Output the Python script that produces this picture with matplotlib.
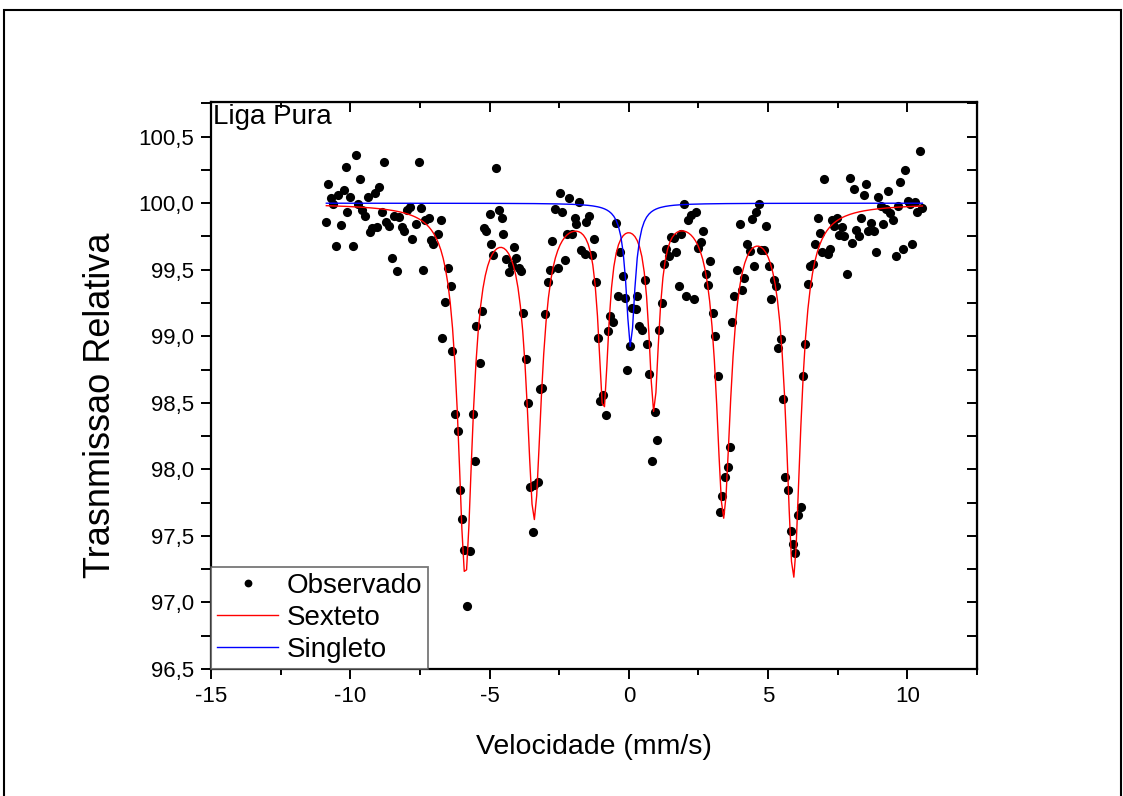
import numpy as np
import matplotlib
matplotlib.use('Agg')
import matplotlib.pyplot as plt
from matplotlib.ticker import MultipleLocator, FuncFormatter
from matplotlib.patches import Rectangle

plt.rcParams['font.family'] = ['Liberation Sans', 'DejaVu Sans']
plt.rcParams['axes.unicode_minus'] = False

# espectro observado (velocidade em mm/s, transmissao relativa em %)
vel = [-10.86, -10.79, -10.69, -10.61, -10.53, -10.43, -10.33, -10.24, -10.17, -10.10,
       -10.00, -9.90, -9.81, -9.74, -9.64, -9.57, -9.47, -9.38, -9.28, -9.21,
       -9.11, -9.04, -8.96, -8.85, -8.78, -8.70, -8.61, -8.51, -8.42, -8.34,
       -8.25, -8.15, -8.06, -7.96, -7.87, -7.79, -7.63, -7.55, -7.46, -7.39,
       -7.31, -7.17, -7.10, -7.03, -6.86, -6.76, -6.69, -6.59, -6.50, -6.40,
       -6.33, -6.23, -6.14, -6.07, -5.99, -5.90, -5.80, -5.71, -5.60, -5.53,
       -5.48, -5.36, -5.27, -5.19, -5.12, -5.00, -4.93, -4.86, -4.76, -4.66,
       -4.57, -4.50, -4.40, -4.30, -4.21, -4.14, -4.04, -3.94, -3.87, -3.80,
       -3.70, -3.61, -3.54, -3.44, -3.39, -3.27, -3.20, -3.10, -3.01, -2.91,
       -2.84, -2.74, -2.65, -2.55, -2.48, -2.39, -2.29, -2.22, -2.15, -2.05,
       -1.95, -1.88, -1.78, -1.71, -1.59, -1.52, -1.42, -1.33, -1.26, -1.19,
       -1.09, -1.02, -0.92, -0.83, -0.73, -0.66, -0.56, -0.47, -0.39, -0.30,
       -0.20, -0.13, -0.06, 0.03, 0.12, 0.24, 0.31, 0.38, 0.48, 0.58,
       0.65, 0.74, 0.84, 0.94, 1.01, 1.10, 1.20, 1.27, 1.34, 1.44,
       1.51, 1.63, 1.70, 1.80, 1.87, 1.97, 2.06, 2.14, 2.23, 2.33,
       2.40, 2.50, 2.59, 2.66, 2.76, 2.83, 2.93, 3.02, 3.09, 3.19,
       3.29, 3.36, 3.45, 3.55, 3.65, 3.72, 3.79, 3.89, 3.98, 4.08,
       4.15, 4.25, 4.34, 4.41, 4.51, 4.58, 4.68, 4.75, 4.85, 4.94,
       5.04, 5.11, 5.21, 5.30, 5.37, 5.47, 5.54, 5.61, 5.72, 5.82,
       5.91, 5.98, 6.08, 6.18, 6.25, 6.34, 6.44, 6.51, 6.61, 6.68,
       6.78, 6.87, 6.94, 7.02, 7.14, 7.21, 7.28, 7.38, 7.47, 7.54,
       7.64, 7.74, 7.83, 7.93, 8.00, 8.08, 8.17, 8.26, 8.35, 8.43,
       8.53, 8.60, 8.69, 8.79, 8.87, 8.96, 9.04, 9.14, 9.22, 9.32,
       9.39, 9.49, 9.58, 9.65, 9.74, 9.85, 9.92, 10.01, 10.11, 10.18,
       10.26, 10.35, 10.45, 10.54]
trans = [99.855, 100.145, 100.04, 99.99, 99.68, 100.06, 99.835, 100.10, 100.27, 99.935,
         100.05, 99.675, 100.365, 99.995, 100.18, 99.95, 99.905, 100.05, 99.78, 99.815,
         100.075, 99.82, 100.125, 99.935, 100.31, 99.855, 99.825, 99.59, 99.90, 99.49,
         99.895, 99.82, 99.79, 99.95, 99.97, 99.73, 99.84, 100.31, 99.96, 99.495,
         99.87, 99.89, 99.72, 99.695, 99.765, 99.875, 98.985, 99.255, 99.515, 99.375,
         98.89, 98.415, 98.29, 97.845, 97.63, 97.395, 96.975, 97.385, 98.415, 98.065,
         99.075, 98.80, 99.19, 99.815, 99.79, 99.915, 99.695, 99.61, 100.265, 99.945,
         99.89, 99.765, 99.58, 99.48, 99.535, 99.67, 99.59, 99.515, 99.49, 99.175,
         98.83, 98.495, 97.87, 97.53, 97.885, 97.905, 98.605, 98.61, 99.17, 99.405,
         99.50, 99.715, 99.955, 99.51, 100.08, 99.93, 99.57, 99.765, 100.035, 99.765,
         99.885, 99.845, 100.01, 99.645, 99.615, 99.86, 99.905, 99.61, 99.73, 99.405,
         98.99, 98.51, 98.56, 98.41, 99.04, 99.15, 99.105, 99.85, 99.30, 99.63,
         99.45, 99.29, 98.75, 98.93, 99.21, 99.205, 99.30, 99.08, 99.045, 99.425,
         98.945, 98.715, 98.065, 98.43, 98.22, 99.05, 99.25, 99.545, 99.655, 99.60,
         99.745, 99.735, 99.635, 99.375, 99.77, 99.995, 99.305, 99.875, 99.91, 99.28,
         99.935, 99.66, 99.705, 99.79, 99.47, 99.385, 99.565, 99.175, 99.00, 98.705,
         97.68, 97.80, 97.945, 98.02, 98.17, 99.11, 99.30, 99.50, 99.845, 99.35,
         99.44, 99.69, 99.64, 99.878, 99.525, 99.935, 99.995, 99.65, 99.65, 99.83,
         99.53, 99.28, 99.425, 99.38, 98.91, 98.98, 98.525, 97.945, 97.845, 97.54,
         97.44, 97.37, 97.66, 97.72, 98.705, 98.94, 99.39, 99.528, 99.54, 99.69,
         99.89, 99.775, 99.63, 100.18, 99.615, 99.655, 99.87, 99.83, 99.89, 99.757,
         99.82, 99.75, 99.47, 100.19, 99.70, 100.11, 99.795, 99.75, 99.888, 100.06,
         100.145, 99.788, 99.85, 99.788, 99.63, 100.045, 99.975, 99.84, 99.958, 100.09,
         99.925, 99.87, 99.60, 99.98, 100.157, 99.658, 100.25, 100.015, 99.995, 99.695,
         100.005, 99.93, 100.395, 99.963]

# parametros do ajuste (lorentzianas)
sext_pos = [-5.87, -3.40, -0.91, 0.90, 3.40, 5.91]
sext_depth = [2.76, 2.31, 1.48, 1.48, 2.30, 2.77]
sext_hwhm = [0.32, 0.32, 0.22, 0.22, 0.32, 0.32]
sing_pos = 0.06
sing_depth = 1.08
sing_hwhm = 0.19
baseline = 100.0


def lorentz(x, x0, a, g):
    return a * g**2 / ((x - x0)**2 + g**2)


xfit = np.linspace(vel[0], vel[-1], 256)
sexteto = baseline - sum(lorentz(xfit, p, a, g)
                         for p, a, g in zip(sext_pos, sext_depth, sext_hwhm))
singleto = baseline - lorentz(xfit, sing_pos, sing_depth, sing_hwhm)

fig = plt.figure(figsize=(11.23, 7.96), dpi=100)
ax = fig.add_axes([211/1123, 1 - 669/796, (977 - 211)/1123, (669 - 102)/796])

ax.plot(vel, trans, 'o', color='black', ms=6.6, mew=0, label='Observado', zorder=2)
ax.plot(xfit, sexteto, color='red', lw=1, label='Sexteto', zorder=3)
ax.plot(xfit, singleto, color='blue', lw=1, label='Singleto', zorder=3)

ax.set_xlim(-15, 12.5)
ax.set_ylim(96.5, 100.76)

ax.xaxis.set_major_locator(MultipleLocator(5))
ax.xaxis.set_minor_locator(MultipleLocator(2.5))
ax.yaxis.set_major_locator(MultipleLocator(0.5))
ax.yaxis.set_minor_locator(MultipleLocator(0.25))
ax.xaxis.set_major_formatter(FuncFormatter(lambda v, p: f'{v:.0f}'))
ax.yaxis.set_major_formatter(FuncFormatter(lambda v, p: f'{v:.1f}'.replace('.', ',')))

for s in ax.spines.values():
    s.set_linewidth(1.6)
ax.tick_params(which='both', direction='out', width=1.4, labelsize=16, pad=5)
ax.tick_params(axis='x', which='major', length=7)
ax.tick_params(axis='x', which='minor', length=4.5)
ax.tick_params(axis='y', which='both', length=7)

# ticks internos no topo e a direita
axt = ax.secondary_xaxis('top')
axt.xaxis.set_major_locator(MultipleLocator(5))
axt.xaxis.set_minor_locator(MultipleLocator(2.5))
axt.tick_params(which='both', direction='in', width=1.4, labeltop=False)
axt.tick_params(which='major', length=7)
axt.tick_params(which='minor', length=4.5)
axr = ax.secondary_yaxis('right')
axr.yaxis.set_major_locator(MultipleLocator(0.5))
axr.yaxis.set_minor_locator(MultipleLocator(0.25))
axr.tick_params(which='both', direction='in', width=1.4, length=7, labelright=False)

ax.set_xlabel('Velocidade (mm/s)', fontsize=20.5, labelpad=20)
ax.set_ylabel('Trasnmissao Relativa', fontsize=26)
ax.yaxis.set_label_coords(-0.121, 0.465)
ax.text(0.003, 0.997, 'Liga Pura', transform=ax.transAxes, fontsize=20,
        ha='left', va='top')

leg = ax.legend(loc='lower left', fontsize=20, frameon=True, fancybox=False,
                borderaxespad=0, handlelength=2.2, handletextpad=0.3,
                labelspacing=0.22, borderpad=0.22, markerscale=0.85)
leg.get_frame().set_edgecolor('#555555')
leg.get_frame().set_linewidth(1.3)

# moldura externa da figura
fig.patches.append(Rectangle((4/1123, -0.05), 1117/1123, 1 - 10/796 + 0.05,
                             transform=fig.transFigure, fill=False,
                             edgecolor='black', lw=1.5))

fig.savefig('out.png', dpi=100)
